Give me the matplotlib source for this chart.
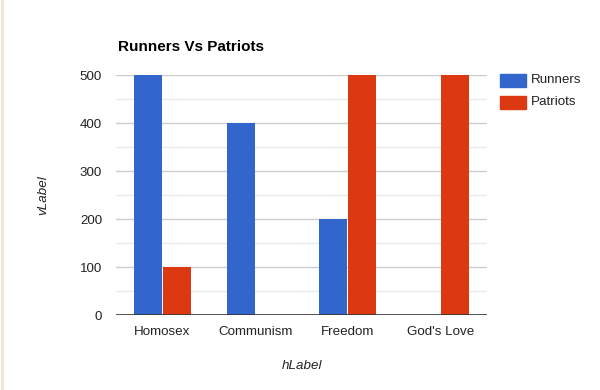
import matplotlib
matplotlib.use("Agg")
import matplotlib.pyplot as plt
import numpy as np
from matplotlib.patches import Rectangle
from matplotlib.lines import Line2D

categories = ["Homosex", "Communism", "Freedom", "God's Love"]
runners = [500, 400, 200, 0]
patriots = [100, 0, 500, 500]
yticks = [0, 100, 200, 300, 400, 500]

plt.rcParams['font.family'] = ['Liberation Sans', 'DejaVu Sans']

fig = plt.figure(figsize=(6, 3.9), dpi=100)
ax = fig.add_axes([116/600, 1-315/390, 371/600, 240/390])

x = np.arange(len(categories))
bw = 0.30
gap = 0.006
ax.bar(x - bw/2 - gap, runners, bw, color='#3366CC', zorder=3, label='Runners')
ax.bar(x + bw/2 + gap, patriots, bw, color='#DC3912', zorder=3, label='Patriots')

ax.set_xlim(-0.5, 3.5)
ax.set_ylim(0, 500)
for v in np.arange(50, 501, 100):
    ax.axhline(v, color='#ebebeb', lw=1, zorder=1)
for v in yticks[1:]:
    ax.axhline(v, color='#cccccc', lw=1, zorder=1)
ax.axhline(0, color='#333333', lw=1.2, zorder=4)

for s in ax.spines.values():
    s.set_visible(False)
ax.set_yticks(yticks)
ax.set_yticklabels([str(v) for v in yticks])
ax.set_xticks(x)
ax.set_xticklabels(categories)
ax.tick_params(axis='both', length=0, labelsize=9.6, colors='#222222')
ax.tick_params(axis='y', pad=10)
ax.tick_params(axis='x', pad=8)

fig.text(118/600, 1-47/390, "Runners Vs Patriots", fontsize=11, fontweight='bold',
         color='#000000', ha='left', va='center')
fig.text(302/600, 1-366/390, "hLabel", fontsize=9.6, style='italic', color='#222222',
         ha='center', va='center')
fig.text(43/600, 1-195/390, "vLabel", fontsize=9.6, style='italic', color='#222222',
         ha='center', va='center', rotation=90)

# legend
for i, (lab, col) in enumerate([("Runners", '#3366CC'), ("Patriots", '#DC3912')]):
    yc = 80 + i*22
    fig.patches.append(Rectangle((500/600, 1-(yc+6.5)/390), 26/600, 13/390,
                                 transform=fig.transFigure, color=col))
    fig.text(531/600, 1-yc/390, lab, fontsize=9.6, color='#222222', ha='left', va='center')

# left border
fig.add_artist(Line2D([1.5/600, 1.5/600], [0, 1], transform=fig.transFigure,
                      color='#efe6d2', lw=2))

fig.savefig("out.png", dpi=100)
